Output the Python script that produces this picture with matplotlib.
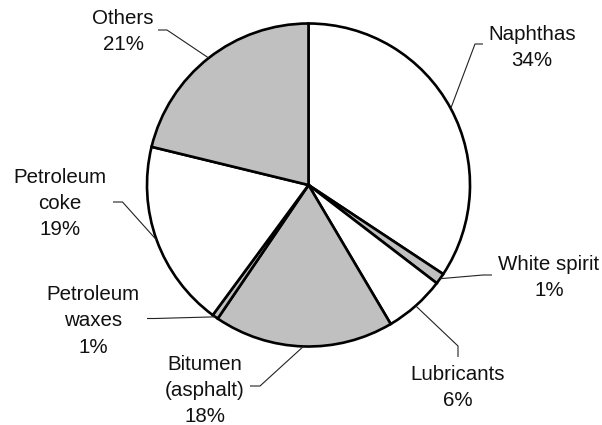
import numpy as np
import matplotlib
matplotlib.use("Agg")
import matplotlib.pyplot as plt

plt.rcParams['font.family'] = ['Liberation Sans', 'DejaVu Sans']

# slice shares (clockwise from 12 o'clock)
names = ['Naphthas', 'White spirit', 'Lubricants', 'Bitumen\n(asphalt)',
         'Petroleum\nwaxes', 'Petroleum\ncoke', 'Others']
shares = [34.3, 1.1, 6.1, 18.0, 0.6, 18.7, 21.2]
fills = ['white', '#c0c0c0', 'white', '#c0c0c0', '#c0c0c0', 'white', '#c0c0c0']

# label placement in pixels (x centre, first baseline y), y from top
label_xy = [(532, 39.5), (549, 270), (458, 379.5), (205, 369.5),
            (93, 300), (60, 182.7), (123, 24)]
# leader lines: elbow and end point, pixels from top
elbows = [(475, 44), (483, 275), (458, 346), (260, 386),
          (155, 318.5), (122.5, 202), (167, 30)]
ends = [(483, 44), (492, 275), (458, 357), (250, 386),
        (147, 318.5), (113, 202), (158, 30)]

W, H = 602, 425
cx, cy, r = 308.5, 185, 161.5
pitch = 26.3

def Y(y):
    return H - y

fig = plt.figure(figsize=(W / 100, H / 100), dpi=100)
ax = fig.add_axes([0, 0, 1, 1])

wedges, _ = ax.pie(shares, colors=fills, startangle=90, counterclock=False,
                   center=(cx, Y(cy)), radius=r,
                   wedgeprops=dict(edgecolor='black', linewidth=1.9))
ax.set_xlim(0, W)
ax.set_ylim(0, H)
ax.set_aspect('equal')
ax.axis('off')

for w, name, share, (tx, ty), el, en in zip(wedges, names, shares, label_xy, elbows, ends):
    # leader starts on the rim at the middle of the slice
    mid = np.deg2rad((w.theta1 + w.theta2) / 2)
    px = cx + r * np.cos(mid)
    py = Y(cy) + r * np.sin(mid)
    ax.plot([px, el[0], en[0]], [py, Y(el[1]), Y(en[1])], color='#222222', lw=0.8,
            solid_capstyle='butt', zorder=3)
    lines = name.split('\n') + [f'{share:.0f}%']
    for i, line in enumerate(lines):
        ax.text(tx, Y(ty + i * pitch), line, ha='center', va='baseline',
                fontsize=14.8, color='#111111')

fig.savefig('out.png', dpi=100)
